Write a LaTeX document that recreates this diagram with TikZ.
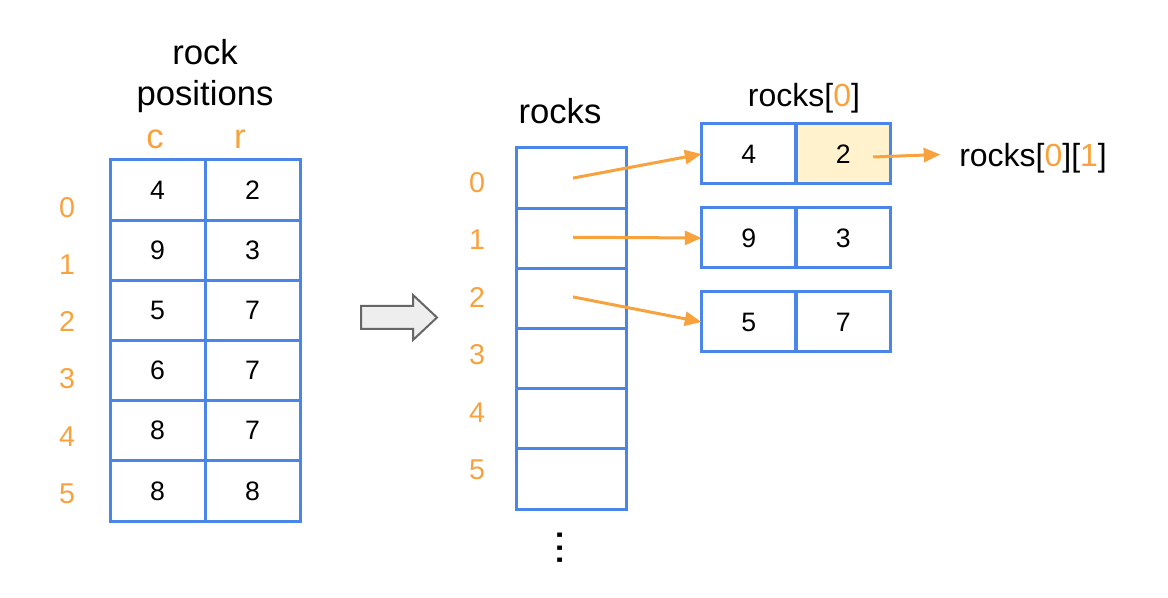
\documentclass[tikz,border=0pt]{standalone}
\usepackage{fontspec}
\setmainfont{Liberation Sans}
\usetikzlibrary{arrows.meta,calc}
\definecolor{cblue}{HTML}{4A86E8}
\definecolor{corange}{HTML}{F8A23E}
\definecolor{chl}{HTML}{FFF2CC}
\definecolor{cgrayfill}{HTML}{EEEEEE}
\definecolor{cgrayline}{HTML}{666666}
\tikzset{
  cellL/.style={draw=cblue, line width=2.25pt, minimum width=71.25pt, minimum height=45.13pt, inner sep=0pt, outer sep=0pt, font={\fontsize{20pt}{24pt}\selectfont}},
  cellR/.style={cellL, minimum width=82.5pt},
  cellB/.style={cellL, minimum width=70.9pt, minimum height=45pt},
  idx/.style={anchor=base, text=corange, inner sep=0pt, font={\fontsize{21.5pt}{26pt}\selectfont}},
  ttl/.style={anchor=base, inner sep=0pt, font={\fontsize{26pt}{31pt}\selectfont}},
  lbl/.style={anchor=base, inner sep=0pt, font={\fontsize{24pt}{29pt}\selectfont}},
  oarrow/.style={draw=corange, line width=2.25pt, -{Triangle[length=12.5pt,width=10.5pt]}},
  bigarrow/.style={draw=cgrayline, fill=cgrayfill, line width=1.5pt, line join=miter},
}
\newcommand{\og}[1]{\textcolor{corange}{#1}}
\begin{document}
\begin{tikzpicture}[x=0.75pt,y=-0.75pt]
\useasboundingbox (0,0) rectangle (1168,598);
% left title
\node[ttl] (t1) at (205,65) {rock};
\node[ttl] (t2) at (205,106) {positions};
\node[ttl, text=corange] (hc) at (155,149) {c};
\node[ttl, text=corange] (hr) at (240,149) {r};
% left table
\foreach \i/\a/\b in {0/4/2,1/9/3,2/5/7,3/6/7,4/8/7,5/8/8}{
  \node[cellL] (L\i a) at (157.5,{190.08+60.17*\i}) {\a};
  \node[cellL] (L\i b) at (252.5,{190.08+60.17*\i}) {\b};
  \node[idx] (li\i) at (67,{217.3+57.2*\i}) {\i};
}
% big gray arrow
\draw[bigarrow] (361,306) -- (413,306) -- (413,295) -- (437,317.5) -- (413,340) -- (413,329) -- (361,329) -- cycle;
% rocks array
\node[ttl] (rk) at (560,123.3) {rocks};
\foreach \i in {0,...,5}{
  \node[cellR] (R\i) at (571,{178.08+60.17*\i}) {};
  \node[idx] (ri\i) at (477,{192.3+57.5*\i}) {\i};
}
\node[rotate=90, inner sep=0pt, font={\fontsize{34pt}{40pt}\selectfont}] (dots) at (560,548) {...};
% right boxes
\node[lbl] (r0lab) at (804,106.7) {rocks[\og{0}]};
\node[cellB] (B0a) at (748.75,154) {4};
\node[cellB, fill=chl] (B0b) at (843.25,154) {2};
\node[cellB] (B1a) at (748.75,238) {9};
\node[cellB] (B1b) at (843.25,238) {3};
\node[cellB] (B2a) at (748.75,322) {5};
\node[cellB] (B2b) at (843.25,322) {7};
\draw[cblue, line width=2.25pt] (B0a.north east) -- (B0a.south east);
% pointers
\draw[oarrow] ($(R0.center)+(2,0)$) -- (B0a.west);
\draw[oarrow] ($(R1.center)+(2,-1)$) -- (B1a.west);
\draw[oarrow] ($(R2.center)+(2,-1.5)$) -- (B2a.west);
\coordinate (s1) at ($(B0b.center)+(30,3)$);
\node[lbl, anchor=base west] (r01lab) at (959,166.7) {rocks[\og{0}][\og{1}]};
\draw[oarrow, shorten >=14pt] (s1) -- ([yshift=3.5pt]r01lab.west);
\end{tikzpicture}
\end{document}
